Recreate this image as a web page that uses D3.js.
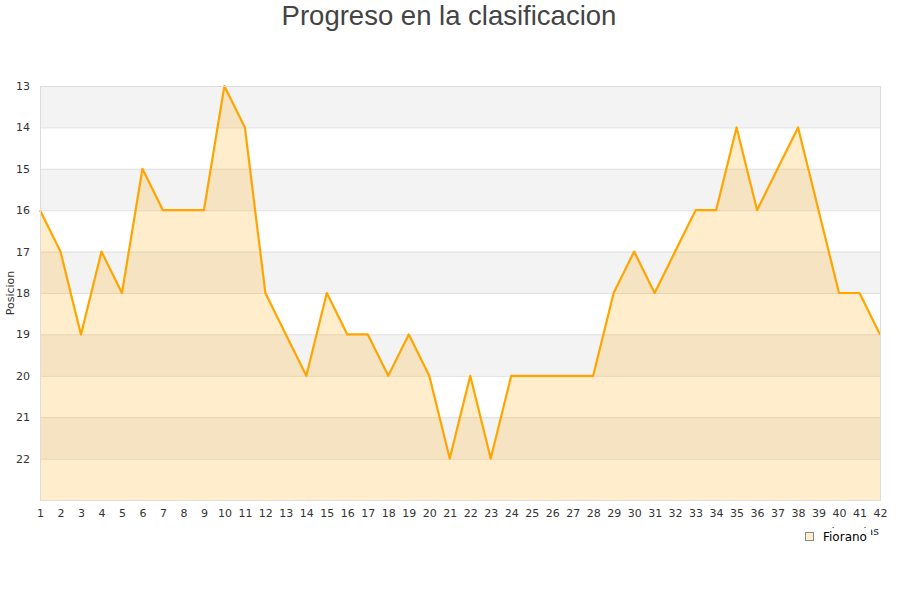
<!DOCTYPE html>
<html><head><meta charset="utf-8">
<script src="https://cdnjs.cloudflare.com/ajax/libs/d3/7.8.5/d3.min.js"></script>
<style>body{margin:0;background:#fff;} svg{display:block;}</style>
</head><body>
<svg id="c" width="900" height="600"></svg>
<script>
const jornadas = d3.range(1, 43);
const posiciones = [16,17,19,17,18,15,16,16,16,13,14,18,19,20,18,19,19,20,19,20,22,20,22,20,20,20,20,20,18,17,18,17,16,16,14,16,15,14,16,18,18,19];
const yTicks = [13,14,15,16,17,18,19,20,21,22];
const bandStarts = [13,15,17,19,21];
const title = "Progreso en la clasificacion";
const seriesName = "Fiorano";

const svg = d3.select("#c");
const L = 40, R = 880, T = 86, B = 500;
const x = d3.scaleLinear().domain([1, 42]).range([L, R]);
const y = d3.scaleLinear().domain([13, 23]).range([T, B]);

// bands
svg.append("g").selectAll("rect").data(bandStarts).join("rect")
  .attr("x", L).attr("width", R - L)
  .attr("y", d => y(d)).attr("height", d => y(d + 1) - y(d))
  .attr("fill", "#f3f3f3");

// grid
svg.append("g").selectAll("line").data(yTicks).join("line")
  .attr("x1", L).attr("x2", R)
  .attr("y1", d => y(d) + 0.5).attr("y2", d => y(d) + 0.5)
  .attr("stroke", "#e0e0e0");

// area
const data = jornadas.map((j, i) => [j, posiciones[i]]);
svg.append("path").datum(data)
  .attr("d", d3.area().x(d => x(d[0])).y0(y(23)).y1(d => y(d[1])))
  .attr("fill", "rgba(255,165,0,0.2)");
svg.append("path").datum(data)
  .attr("d", d3.line().x(d => x(d[0])).y(d => y(d[1])))
  .attr("fill", "none").attr("stroke", "#ffa500").attr("stroke-width", 2.2)
  .attr("stroke-linejoin", "round");

// frame
svg.append("rect").attr("x", L + 0.5).attr("y", T + 0.5).attr("width", R - L).attr("height", B - T)
  .attr("fill", "none").attr("stroke", "#dddddd");

// y axis labels
const yAxis = d3.axisLeft(y).tickValues(yTicks).tickSize(0).tickPadding(10);
const gy = svg.append("g").attr("transform", `translate(${L},0)`).call(yAxis);
gy.select(".domain").remove();
gy.selectAll("text").attr("font-family", "DejaVu Sans, sans-serif").attr("font-size", 11).attr("fill", "#333");

// x axis labels
const xAxis = d3.axisBottom(x).tickValues(jornadas).tickSize(0).tickPadding(9).tickFormat(d3.format("d"));
const gx = svg.append("g").attr("transform", `translate(0,${B})`).call(xAxis);
gx.select(".domain").remove();
gx.selectAll("text").attr("font-family", "DejaVu Sans, sans-serif").attr("font-size", 11).attr("fill", "#333");

// axis titles
svg.append("text").attr("transform", "translate(14,293) rotate(-90)")
  .attr("text-anchor", "middle").attr("font-family", "DejaVu Sans, sans-serif")
  .attr("font-size", 11).attr("fill", "#333").text("Posicion");
svg.append("text").attr("x", 879).attr("y", 535).attr("text-anchor", "end")
  .attr("font-family", "DejaVu Sans, sans-serif").attr("font-size", 11).attr("fill", "#333").text("Jornadas");

// title
svg.append("text").attr("x", 449).attr("y", 25).attr("text-anchor", "middle")
  .attr("font-family", "Liberation Sans, Arial, sans-serif").attr("font-size", 27.5).attr("fill", "#444").text(title);

// legend
const lg = svg.append("g");
lg.append("rect").attr("x", 796).attr("y", 528).attr("width", 75).attr("height", 20).attr("fill", "#fff");
lg.append("rect").attr("x", 805.5).attr("y", 532.5).attr("width", 8).attr("height", 8)
  .attr("fill", "#ffedcc").attr("stroke", "#888");
lg.append("text").attr("x", 823).attr("y", 541).attr("font-family", "DejaVu Sans, sans-serif")
  .attr("font-size", 12).attr("fill", "#000").text(seriesName);
</script>
</body></html>
